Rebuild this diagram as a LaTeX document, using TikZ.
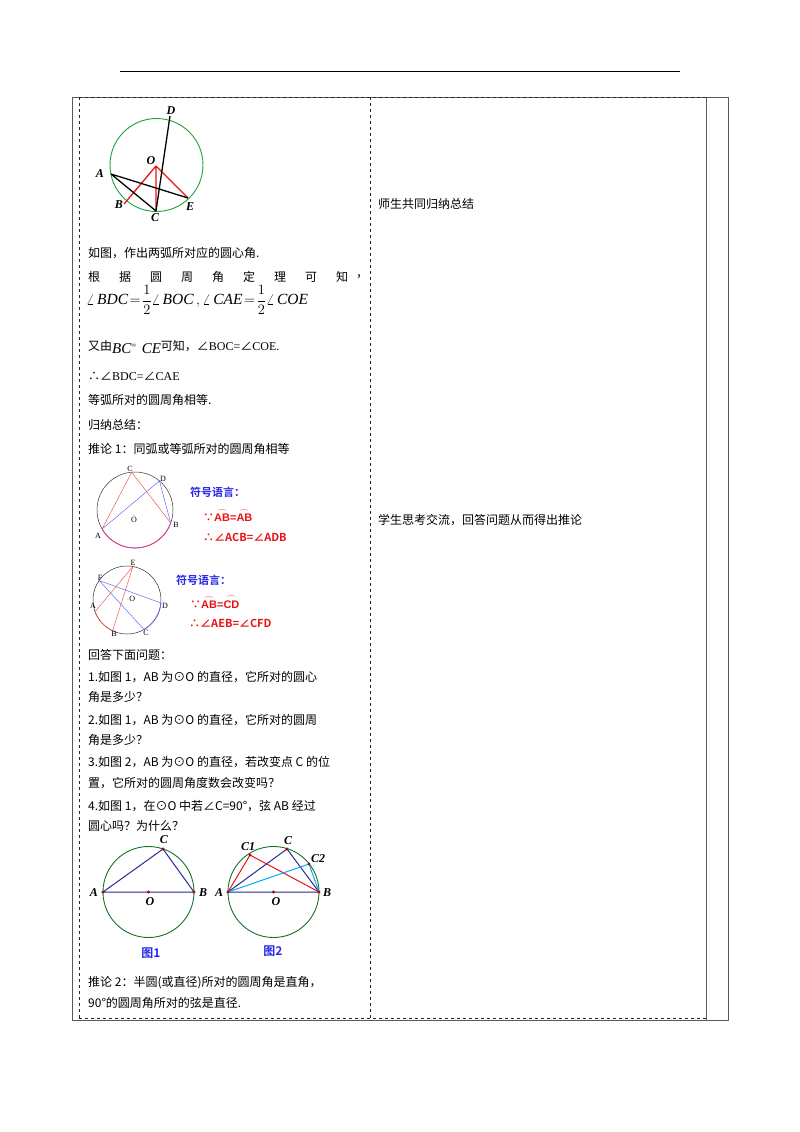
\documentclass[tikz,border=0pt]{standalone}
\usepackage{amsmath}
\usepackage{fontspec}
\setmainfont{Liberation Serif}
\newfontfamily\cjk{Noto Sans CJK SC}
\newfontfamily\cjkb{Noto Sans CJK SC Bold}
\newfontfamily\sfb{Liberation Sans Bold}
\newfontfamily\tms{Liberation Serif}
\definecolor{cgreen}{RGB}{30,160,60}
\definecolor{cblue}{RGB}{40,40,150}
\definecolor{lblue}{RGB}{40,40,230}
\definecolor{cred}{RGB}{230,20,20}
\newcommand{\myit}[1]{\text{\tms\itshape #1}}
\newcommand{\myang}{{\cjk ∠}}
\begin{document}
\begin{tikzpicture}[x=1pt,y=-1pt,
  txt/.style={anchor=west,inner sep=0pt,font=\fontsize{12}{14}\selectfont\cjk},
  lbl/.style={inner sep=0pt,font=\fontsize{12}{14}\selectfont\bfseries\itshape},
  dlbl/.style={inner sep=0pt,font=\fontsize{8}{9}\selectfont},
  sym/.style={anchor=west,inner sep=0pt,font=\fontsize{11}{13}\selectfont\cjkb,text=cred},
  symh/.style={anchor=west,inner sep=0pt,font=\fontsize{11}{13}\selectfont\cjkb,text=lblue},
  pt/.style={circle,fill=cred!70!black,inner sep=1.2pt}]
\useasboundingbox (0,0) rectangle (800,1132);
% header line and table
\draw[line width=1pt] (120,72) -- (680,72);
\draw[gray!70!black,line width=0.8pt] (72,97) -- (728,97) -- (728,1020) -- (72,1020) -- cycle;
\draw[gray!70!black,line width=0.8pt] (706,97) -- (706,1020);
\draw[dashed,line width=0.8pt,gray!30!black] (79,97) -- (706,97) (79,97) -- (79,1018) (79,1018) -- (706,1018) (370,97) -- (370,1018);
% figure 1
\draw[cgreen,line width=0.9pt] (156.5,165) circle (46.5);
\coordinate (O) at (156,166); \coordinate (D) at (170,116); \coordinate (A) at (111,174);
\coordinate (B) at (124,204); \coordinate (C) at (156,211); \coordinate (E) at (188,198);
\draw[cred,line width=1.3pt] (O) -- (B) (O) -- (C) (O) -- (E);
\draw[line width=1.3pt] (A) -- (C) (A) -- (E) (D) -- (C);
\node[lbl] at (171,111) {D}; \node[lbl] at (151,161) {O}; \node[lbl] at (100,174) {A};
\node[lbl] at (119,205) {B}; \node[lbl] at (155,218) {C}; \node[lbl] at (190,207) {E};
% text block 1
\node[txt] (t1) at (88,253) {如图，作出两弧所对应的圆心角.};
\foreach \c/\x in {根/88,据/119,圆/150,周/181,角/212,定/243,理/274,可/305,知/336} {\node[txt] at (\x,277) {\c};}
\node[txt] at (356,277) {，};
\node[anchor=west,inner sep=0pt,font=\fontsize{15.5}{18}\selectfont] at (86,300) {$\angle\,\myit{BDC}\!=\!\dfrac{1}{2}\angle\,\myit{BOC}\,,\angle\,\myit{CAE}\!=\!\dfrac{1}{2}\angle\,\myit{COE}$};
\node[txt] at (88,347) {又由\raisebox{-3pt}{\fontsize{15}{16}\selectfont\tms\itshape BC}\raisebox{2pt}{\fontsize{9}{9}\selectfont\tms =}\ \ \raisebox{-3pt}{\fontsize{15}{16}\selectfont\tms\itshape CE}可知，\myang{\tms BOC=}\myang{\tms COE.}};
\node[txt] at (88,376) {∴\myang{\tms BDC=}\myang{\tms CAE}};
\node[txt] at (88,400) {等弧所对的圆周角相等.};
\node[txt] at (88,425) {归纳总结：};
\node[txt] at (88,449) {推论 1：同弧或等弧所对的圆周角相等};
% figure 2
\draw[gray!40!black,line width=0.5pt] (135,510) circle (38);
\coordinate (A2) at ({135+38*cos(150)},{510+38*sin(150)});
\coordinate (B2) at ({135+38*cos(20)},{510+38*sin(20)});
\coordinate (C2) at ({135+38*cos(-95)},{510+38*sin(-95)});
\coordinate (D2) at ({135+38*cos(-50)},{510+38*sin(-50)});
\draw[magenta!80,line width=0.8pt] (A2) arc[start angle=150,end angle=20,radius=38];
\draw[cred!70,line width=0.5pt] (C2) -- (A2) (C2) -- (B2);
\draw[lblue!70,line width=0.5pt] (A2) -- (D2) -- (B2);
\node[dlbl] at (130,469) {C}; \node[dlbl] at (163,479) {D}; \node[dlbl] at (176,525) {B};
\node[dlbl] at (98,536) {A}; \node[dlbl] at (134,519) {$\dot{\mathrm{O}}$};
\node[symh] at (190,492) {符号语言：};
\node[sym] at (203,515) {∵\(\overset{\frown}{\text{\sfb AB}}\)\sfb =\(\overset{\frown}{\text{\sfb AB}}\)};
\node[sym] at (203,537) {∴∠ACB=∠ADB};
% figure 3
\draw[gray!40!black,line width=0.5pt] (127,600) circle (34);
\coordinate (A3) at ({127+34*cos(160)},{600+34*sin(160)});
\coordinate (B3) at ({127+34*cos(115)},{600+34*sin(115)});
\coordinate (C3) at ({127+34*cos(60)},{600+34*sin(60)});
\coordinate (D3) at ({127+34*cos(5)},{600+34*sin(5)});
\coordinate (E3) at ({127+34*cos(-80)},{600+34*sin(-80)});
\coordinate (F3) at ({127+34*cos(-145)},{600+34*sin(-145)});
\draw[cred!70,line width=0.8pt] (A3) arc[start angle=160,end angle=115,radius=34];
\draw[lblue!70,line width=0.8pt] (C3) arc[start angle=60,end angle=5,radius=34];
\draw[cred!70,line width=0.5pt] (A3) -- (E3) -- (B3);
\draw[lblue!70,line width=0.5pt] (D3) -- (F3) -- (C3);
\node[dlbl] at (133,563) {E}; \node[dlbl] at (100,578) {F}; \node[dlbl] at (93,606) {A};
\node[dlbl] at (165,606) {D}; \node[dlbl] at (114,634) {B}; \node[dlbl] at (146,633) {C};
\node[dlbl] at (131,599) {$\cdot$O};
\node[symh] at (176,580) {符号语言：};
\node[sym] at (190,602) {∵\(\overset{\frown}{\text{\sfb AB}}\)\sfb =\(\overset{\frown}{\text{\sfb CD}}\)};
\node[sym] at (189,623) {∴∠AEB=∠CFD};
% questions
\node[txt] at (88,655) {回答下面问题：};
\node[txt] at (88,677) {1.如图 1，AB 为⊙O 的直径，它所对的圆心};
\node[txt] at (88,697) {角是多少？};
\node[txt] at (88,720) {2.如图 1，AB 为⊙O 的直径，它所对的圆周};
\node[txt] at (88,740) {角是多少？};
\node[txt] at (88,762) {3.如图 2，AB 为⊙O 的直径，若改变点 C 的位};
\node[txt] at (88,783) {置，它所对的圆周角度数会改变吗？};
\node[txt] at (88,806) {4.如图 1，在⊙O 中若∠C=90°，弦 AB 经过};
\node[txt] at (88,826) {圆心吗？为什么？};
% bottom fig 1
\draw[cgreen!70!black,line width=0.9pt] (148.5,892) circle (45.5);
\coordinate (A4) at (103,892); \coordinate (B4) at (194,892); \coordinate (O4) at (148.5,892);
\coordinate (C4) at (163,849);
\draw[cblue,line width=1pt] (A4) -- (B4) -- (C4) -- cycle;
\foreach \p in {A4,B4,O4,C4} \node[pt] at (\p) {};
\node[lbl] at (94,893) {A}; \node[lbl] at (203,893) {B}; \node[lbl] at (150,902) {O}; \node[lbl] at (164,840) {C};
\node[font=\fontsize{12}{14}\selectfont\cjkb,text=lblue,inner sep=0pt] at (151,953) {图1};
% bottom fig 2
\draw[cgreen!70!black,line width=0.9pt] (273.5,892) circle (45.5);
\coordinate (A5) at (228,892); \coordinate (B5) at (319,892); \coordinate (O5) at (273.5,892);
\coordinate (C5) at (287,849); \coordinate (C15) at (250,855); \coordinate (C25) at (309,864);
\draw[cblue,line width=1pt] (A5) -- (B5) -- (C5) -- cycle;
\draw[cred,line width=1pt] (A5) -- (C15) -- (B5);
\draw[cyan,line width=1pt] (A5) -- (C25) -- (B5);
\foreach \p in {A5,B5,O5,C5,C15,C25} \node[pt] at (\p) {};
\node[lbl] at (219,893) {A}; \node[lbl] at (327,893) {B}; \node[lbl] at (276,902) {O};
\node[lbl] at (288,841) {C}; \node[lbl] at (248,847) {C1}; \node[lbl] at (318,859) {C2};
\node[font=\fontsize{12}{14}\selectfont\cjkb,text=lblue,inner sep=0pt] at (273,951) {图2};
\node[txt] at (88,983) {推论 2：半圆(或直径)所对的圆周角是直角，};
\node[txt] at (88,1003) {90°的圆周角所对的弦是直径.};
% right column
\node[txt] at (378,204) {师生共同归纳总结};
\node[txt] at (378,520) {学生思考交流，回答问题从而得出推论};
\end{tikzpicture}
\end{document}
